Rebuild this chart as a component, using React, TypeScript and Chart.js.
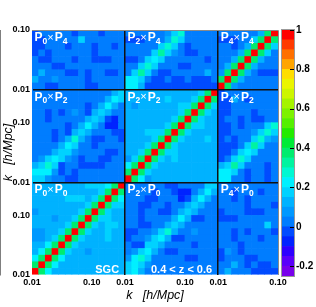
import React, { useEffect, useRef } from "react";
import { Chart, registerables } from "chart.js";
Chart.register(...registerables);

// ---- axis / block definitions ----
const BLOCK_NAMES = ["0", "2", "4"]; // multipoles P0, P2, P4
const BLOCK_SIZES = [14, 14, 9];
const BLOCK_OFFSETS = [0, 14, 28];
const N_TOTAL = 37;
const X_TICK_POS = [0, 9, 14, 23, 28, 37];
const X_TICK_LABELS = ["0.01", "0.10", "0.01", "0.10", "0.01", "0.10"];
const Y_TICK_POS = [0, 9, 14, 23, 28, 37];
const Y_TICK_LABELS = ["0.01", "0.10", "0.01", "0.10", "0.01", "0.10"];
const DIVIDERS = [14, 28];
const AXIS_TITLE = "k   [h/Mpc]";
const SAMPLE_LABEL = "SGC";
const Z_LABEL = "0.4 < z < 0.6";

// ---- colour palette (z axis) ----
const PALETTE_EDGES = [
  -0.25, -0.2, -0.15, -0.1, -0.05, 0, 0.05, 0.1, 0.15, 0.2, 0.25, 0.3, 0.35,
  0.4, 0.45, 0.5, 0.55, 0.6, 0.65, 0.7, 0.75, 0.8, 0.85, 0.9, 0.95, 1,
];
const PALETTE_COLORS = [
  "rgb(120,0,235)", "rgb(90,0,250)", "rgb(45,0,255)", "rgb(0,35,255)",
  "rgb(0,75,255)", "rgb(0,125,255)", "rgb(0,152,255)", "rgb(0,178,255)",
  "rgb(0,210,255)", "rgb(0,240,255)", "rgb(0,248,210)", "rgb(0,244,160)",
  "rgb(0,236,110)", "rgb(0,235,55)", "rgb(35,235,0)", "rgb(85,240,0)",
  "rgb(125,242,0)", "rgb(165,244,0)", "rgb(205,246,0)", "rgb(235,245,0)",
  "rgb(255,222,0)", "rgb(255,165,0)", "rgb(255,112,0)", "rgb(255,58,0)",
  "rgb(255,0,0)",
];
const CB_TICKS = [-0.2, 0, 0.2, 0.4, 0.6, 0.8, 1];
const CB_TICK_LABELS = ["-0.2", "0", "0.2", "0.4", "0.6", "0.8", "1"];

// ---- correlation blocks (row = low k first) ----
const P0P0 = [
  [1, .38, .22, .14, .12, .12, .12, .12, .12, .12, .12, .12, .12, .12],
  [.38, 1, .38, .22, .13, .12, .1, .1, .12, .12, .12, .12, .12, .12],
  [.22, .38, 1, .38, .2, .13, .1, .1, .12, .12, .12, .12, .12, .12],
  [.14, .22, .38, 1, .38, .18, .12, .12, .08, .12, .12, .12, .12, .12],
  [.12, .13, .2, .38, 1, .38, .18, .12, .12, .12, .12, .12, .12, .12],
  [.09, .09, .1, .18, .38, 1, .38, .17, .12, .12, .12, .17, .12, .12],
  [.09, .09, .1, .12, .18, .38, 1, .38, .17, .12, .12, .17, .12, .12],
  [.12, .1, .1, .12, .12, .17, .38, 1, .38, .17, .12, .17, .17, .12],
  [.12, .12, .12, .08, .12, .12, .17, .38, 1, .38, .17, .17, .12, .12],
  [.08, .12, .12, .12, .12, .12, .12, .17, .38, 1, .38, .17, .12, .12],
  [.12, .12, .12, .12, .12, .12, .12, .12, .17, .38, 1, .38, .17, .17],
  [.12, .12, .12, .12, .12, .17, .17, .17, .12, .17, .38, 1, .38, .2],
  [.12, .12, .12, .12, .12, .12, .12, .12, .12, .12, .17, .38, 1, .38],
  [.12, .12, .12, .12, .12, .12, .12, .12, .17, .17, .17, .2, .38, 1],
];
const P2P2 = [
  [1, .38, .2, .07, .1, .12, .12, .12, .12, .12, .12, .12, .12, .12],
  [.38, 1, .38, .15, .12, .12, .12, .12, .12, .12, .12, .12, .12, .12],
  [.2, .38, 1, .38, .17, .12, .12, .12, .12, .12, .12, .12, .12, .12],
  [.07, .15, .38, 1, .38, .15, .12, .17, .12, .12, .12, .12, .12, .12],
  [.1, .12, .17, .38, 1, .38, .15, .17, .12, .12, .12, .12, .12, .12],
  [.1, .12, .12, .15, .38, 1, .38, .17, .12, .12, .12, .12, .12, .12],
  [.12, .12, .12, .12, .15, .38, 1, .38, .15, .12, .12, .12, .17, .12],
  [.12, .12, .12, .17, .17, .17, .38, 1, .38, .15, .12, .12, .12, .12],
  [.12, .12, .12, .12, .12, .12, .15, .38, 1, .38, .15, .17, .12, .12],
  [.12, .12, .12, .12, .12, .12, .12, .15, .38, 1, .38, .15, .12, .12],
  [.12, .12, .12, .12, .12, .12, .12, .12, .15, .38, 1, .38, .15, .12],
  [.12, .07, .12, .12, .12, .12, .12, .12, .17, .15, .38, 1, .38, .15],
  [.12, .12, .12, .12, .12, .12, .17, .12, .12, .12, .15, .38, 1, .38],
  [.12, .12, .12, .12, .12, .12, .12, .12, .12, .12, .12, .15, .38, 1],
];
const P4P4 = [
  [1, .38, .05, .03, .03, .03, .03, .03, .03],
  [.38, 1, .38, .1, .03, .03, .03, .03, .03],
  [.05, .38, 1, .38, .1, .03, -.02, -.02, -.02],
  [.03, .1, .38, 1, .38, .1, .03, .03, .03],
  [.03, .03, .1, .38, 1, .38, .1, .03, .03],
  [.03, .03, .03, .1, .38, 1, .38, .15, .03],
  [.03, .03, -.02, .03, .1, .38, 1, .38, .17],
  [-.02, -.02, -.02, .03, .03, .15, .38, 1, .38],
  [.03, .03, .03, .03, .03, .03, .1, .38, 1],
];
// rows: P0 bins, cols: P2 bins
const P2P0 = [
  [.17, .2, .1, .03, .03, .03, .03, .03, .03, .03, .03, .03, .03, .03],
  [.15, .22, .15, .07, .03, .03, .03, .03, .03, .03, .03, .03, .03, .03],
  [.07, .2, .27, .15, .03, .03, .03, .03, .03, -.02, -.02, .03, .03, .03],
  [.03, .07, .15, .22, .12, .03, -.02, -.02, .03, .03, .03, .03, .03, .03],
  [.03, -.02, -.02, .15, .17, .12, .03, .03, .03, .03, -.02, .03, .03, .03],
  [-.02, .03, .03, .07, .15, .2, .12, -.02, -.02, .03, .03, .03, .03, .03],
  [-.02, -.02, .03, .03, .07, .15, .25, .12, .03, .03, .07, .03, .03, .03],
  [.03, .03, -.02, -.02, .03, .03, .12, .15, .1, .03, .03, .03, .03, .03],
  [.03, .03, -.02, .03, .03, .03, .03, .1, .2, .12, -.02, -.02, .03, .03],
  [.03, .03, -.02, .03, .03, -.02, -.02, .03, .12, .17, .1, .03, .03, .03],
  [.03, .03, -.02, -.02, .03, .03, -.02, .03, .03, .1, .18, .1, .03, .03],
  [.03, .03, .03, -.02, -.02, .03, .03, .03, -.06, -.02, .1, .2, .1, .03],
  [.03, .03, .03, .03, -.02, .03, .03, -.02, -.06, -.06, .03, .1, .2, .12],
  [.03, .03, .03, .03, .03, .03, -.02, -.02, .03, .03, .03, .03, .15, .17],
];
// rows: P4 bins, cols: P0 bins
const P4P0 = [
  [.03, .03, -.02, -.02, .03, .03, .03, .03, -.02, -.02, .03, .03, .03, .03],
  [.1, .03, .03, .07, .03, .03, .03, .03, -.02, .03, .03, .03, .03, .03],
  [.03, .1, .03, .03, .03, -.02, -.02, .03, -.02, .03, .03, -.02, -.02, .03],
  [.03, .03, .03, -.02, -.02, .03, .03, .03, .03, .03, .03, .03, .03, .03],
  [.03, -.02, -.02, .03, .03, .03, -.02, .03, .03, -.02, -.02, -.02, .03, .03],
  [-.02, .03, -.02, .03, .03, .03, .03, .03, .03, -.02, .03, .03, .03, .03],
  [-.02, -.02, .03, .03, .03, -.02, .03, .03, .03, -.02, .03, .03, -.02, .03],
  [-.02, -.02, .03, .03, .03, .03, .03, .15, .03, .03, .03, .03, .03, .03],
  [-.02, .03, .03, .03, .03, .03, -.02, .03, .03, .03, -.02, .03, .03, .03],
];
// rows: P4 bins, cols: P2 bins
const P4P2 = [
  [.22, .2, .1, -.02, -.02, -.02, -.02, -.02, -.02, -.02, -.03, -.02, -.02, -.02],
  [.22, .22, .15, .03, -.02, -.02, .03, -.02, -.02, .03, -.02, -.02, -.02, .03],
  [.03, .15, .3, .15, .03, -.02, -.02, .03, .03, .03, .03, .03, .1, .03],
  [.03, .03, .15, .27, .15, .03, .03, .03, -.02, -.02, .03, .03, .03, .03],
  [-.02, -.02, .03, .15, .22, .15, .03, .03, .03, .03, .03, .03, -.02, .03],
  [.03, .03, .03, .03, .15, .33, .17, .07, .03, -.02, -.02, .03, .03, .03],
  [.03, .03, .03, .03, .03, .15, .27, .15, .03, -.02, .03, .03, .03, .03],
  [-.02, -.02, -.02, .03, .03, .03, .12, .26, .15, .03, .03, .03, .03, .03],
  [.03, .03, .03, .03, .03, .03, .07, .17, .28, .03, .03, .03, .03, .03],
];

const DIAG = [P0P0, P2P2, P4P4];

function cellValue(by: number, iy: number, bx: number, ix: number): number {
  if (by === bx) return DIAG[by][iy][ix];
  if (by === 0 && bx === 1) return P2P0[iy][ix];
  if (by === 1 && bx === 0) return P2P0[ix][iy];
  if (by === 2 && bx === 0) return P4P0[iy][ix];
  if (by === 0 && bx === 2) return P4P0[ix][iy];
  if (by === 2 && bx === 1) return P4P2[iy][ix];
  return P4P2[ix][iy]; // by 1, bx 2
}

function colorFor(v: number): string {
  for (let i = 0; i < PALETTE_COLORS.length; i++) {
    if (v < PALETTE_EDGES[i + 1]) return PALETTE_COLORS[Math.max(0, i)];
  }
  return PALETTE_COLORS[PALETTE_COLORS.length - 1];
}

function buildDatasets() {
  const sets: any[] = [];
  for (let by = 0; by < 3; by++) {
    for (let iy = 0; iy < BLOCK_SIZES[by]; iy++) {
      const y = BLOCK_OFFSETS[by] + iy;
      const data: any[] = [];
      for (let bx = 0; bx < 3; bx++) {
        for (let ix = 0; ix < BLOCK_SIZES[bx]; ix++) {
          const x = BLOCK_OFFSETS[bx] + ix;
          data.push({ x: x + 0.5, y: [y, y + 1], v: cellValue(by, iy, bx, ix) });
        }
      }
      sets.push({
        data,
        backgroundColor: (ctx: any) => (ctx.raw ? colorFor(ctx.raw.v) : "#000"),
        borderWidth: 0,
      });
    }
  }
  return sets;
}

const FONT = '"Liberation Sans", Arial, Helvetica, sans-serif';

const overlayPlugin = {
  id: "overlay",
  afterDraw(chart: any) {
    const { ctx, chartArea, scales } = chart;
    const xs = scales.x;
    const ys = scales.y;
    ctx.save();
    // keep the margin above the frame blank
    ctx.clearRect(0, 0, chart.width, chartArea.top - 10);
    // frame top/right
    ctx.strokeStyle = "#8a8a8a";
    ctx.lineWidth = 1;
    ctx.beginPath();
    ctx.moveTo(chartArea.left, chartArea.top + 0.5);
    ctx.lineTo(chartArea.right + 0.5, chartArea.top + 0.5);
    ctx.lineTo(chartArea.right + 0.5, chartArea.bottom);
    ctx.stroke();
    // panel labels
    ctx.fillStyle = "#fff";
    ctx.textBaseline = "alphabetic";
    for (let by = 0; by < 3; by++) {
      for (let bx = 0; bx < 3; bx++) {
        const left = xs.getPixelForValue(BLOCK_OFFSETS[bx]);
        const top = ys.getPixelForValue(BLOCK_OFFSETS[by] + BLOCK_SIZES[by]);
        let x = left + 2.5;
        const base = top + 11;
        const parts: [string, string, number][] = [
          ["P", `bold 12px ${FONT}`, 0],
          [BLOCK_NAMES[bx], `bold 8.5px ${FONT}`, 2.5],
          ["\u00d7", `11px ${FONT}`, -0.5],
          [" ", `bold 4px ${FONT}`, 0],
          ["P", `bold 12px ${FONT}`, 0],
          [BLOCK_NAMES[by], `bold 8.5px ${FONT}`, 2.5],
        ];
        for (const [t, f, dy] of parts) {
          ctx.font = f;
          ctx.fillText(t, x, base + dy);
          x += ctx.measureText(t).width;
        }
      }
    }
    // SGC & redshift labels
    ctx.font = `bold 11px ${FONT}`;
    ctx.textAlign = "right";
    const bottom = ys.getPixelForValue(0) - 2.5;
    ctx.fillText(SAMPLE_LABEL, xs.getPixelForValue(BLOCK_OFFSETS[1]) - 6, bottom);
    ctx.fillText(Z_LABEL, xs.getPixelForValue(BLOCK_OFFSETS[2]) - 6, bottom);
    ctx.restore();
  },
};

const cbTickPlugin = {
  id: "cbticks",
  afterDraw(chart: any) {
    const { ctx, chartArea, scales } = chart;
    ctx.save();
    ctx.strokeStyle = "#000";
    ctx.lineWidth = 1;
    for (const t of CB_TICKS) {
      const y = Math.round(scales.y.getPixelForValue(t)) + 0.5;
      ctx.beginPath();
      ctx.moveTo(chartArea.right - 4, y);
      ctx.lineTo(chartArea.right + 1, y);
      ctx.stroke();
    }
    ctx.strokeStyle = "#999";
    ctx.strokeRect(chartArea.left - 0.5, chartArea.top - 0.5, chartArea.right - chartArea.left + 1, chartArea.bottom - chartArea.top + 1);
    ctx.restore();
  },
};

export default function App() {
  const mainRef = useRef<HTMLCanvasElement>(null);
  const cbRef = useRef<HTMLCanvasElement>(null);

  useEffect(() => {
    const tickFont = { family: FONT, size: 9, weight: "bold" as const };
    const titleFont = { family: FONT, size: 12.5, style: "italic" as const };
    const gridColor = (ctx: any) =>
      ctx.tick && DIVIDERS.includes(ctx.tick.value) ? "#111" : "rgba(0,0,0,0)";
    const main = new Chart(mainRef.current!, {
      type: "bar",
      data: { datasets: buildDatasets() },
      options: {
        animation: false,
        responsive: false,
        events: [],
        layout: { padding: { top: 30, right: 38, left: 0, bottom: 0 } },
        plugins: { legend: { display: false }, tooltip: { enabled: false } },
        datasets: {
          bar: { grouped: false, barPercentage: 1, categoryPercentage: 1 },
        },
        scales: {
          x: {
            type: "linear",
            min: 0,
            max: N_TOTAL,
            offset: false,
            afterBuildTicks: (s: any) => {
              s.ticks = X_TICK_POS.map((v) => ({ value: v }));
            },
            afterFit: (s: any) => {
              s.height = 32;
            },
            ticks: {
              autoSkip: false,
              maxRotation: 0,
              font: tickFont,
              color: "#000",
              padding: 2,
              callback: (v: any) => X_TICK_LABELS[X_TICK_POS.indexOf(Number(v))],
            },
            grid: { z: 1, offset: false, color: gridColor, lineWidth: 1.5, drawTicks: false },
            border: { color: "#000", width: 1 },
            title: { display: true, text: AXIS_TITLE, font: titleFont, color: "#000", padding: { top: 0, bottom: 4 } },
          },
          y: {
            type: "linear",
            min: 0,
            max: N_TOTAL,
            afterBuildTicks: (s: any) => {
              s.ticks = Y_TICK_POS.map((v) => ({ value: v }));
            },
            afterFit: (s: any) => {
              s.width = 32;
            },
            ticks: {
              autoSkip: false,
              font: tickFont,
              color: "#000",
              padding: 2,
              callback: (v: any) => Y_TICK_LABELS[Y_TICK_POS.indexOf(Number(v))],
            },
            grid: { z: 1, color: gridColor, lineWidth: 1.5, drawTicks: false },
            border: { color: "#000", width: 1 },
            title: { display: true, text: AXIS_TITLE, font: titleFont, color: "#000", padding: { top: 1, bottom: 0 } },
          },
        },
      } as any,
      plugins: [overlayPlugin],
    });

    const cb = new Chart(cbRef.current!, {
      type: "bar",
      data: {
        labels: [""],
        datasets: PALETTE_COLORS.map((c, i) => ({
          data: [[PALETTE_EDGES[i], PALETTE_EDGES[i + 1]]],
          backgroundColor: c,
          borderWidth: 0,
        })),
      },
      options: {
        animation: false,
        responsive: false,
        events: [],
        layout: { padding: { left: 12, top: 30, bottom: 31, right: 0 } },
        plugins: { legend: { display: false }, tooltip: { enabled: false } },
        datasets: {
          bar: { grouped: false, barPercentage: 1, categoryPercentage: 1 },
        },
        scales: {
          x: { display: false },
          y: {
            position: "right",
            min: -0.25,
            max: 1,
            afterBuildTicks: (s: any) => {
              s.ticks = CB_TICKS.map((v) => ({ value: v }));
            },
            afterFit: (s: any) => {
              s.width = 22;
            },
            ticks: {
              font: { family: FONT, size: 10, weight: "bold" },
              color: "#000",
              padding: 2,
              callback: (v: any) => CB_TICK_LABELS[CB_TICKS.indexOf(Number(v))],
            },
            grid: { display: false, drawTicks: false, tickLength: 0 },
            border: { display: false },
          },
        },
      } as any,
      plugins: [cbTickPlugin],
    });

    return () => {
      main.destroy();
      cb.destroy();
    };
  }, []);

  return (
    <div style={{ position: "absolute", left: 0, top: 0, width: 316, height: 307, background: "#fff" }}>
      <canvas ref={mainRef} width={316} height={307} style={{ position: "absolute", left: 0, top: 0 }} />
      <canvas ref={cbRef} width={46} height={307} style={{ position: "absolute", left: 270, top: 0 }} />
    </div>
  );
}
